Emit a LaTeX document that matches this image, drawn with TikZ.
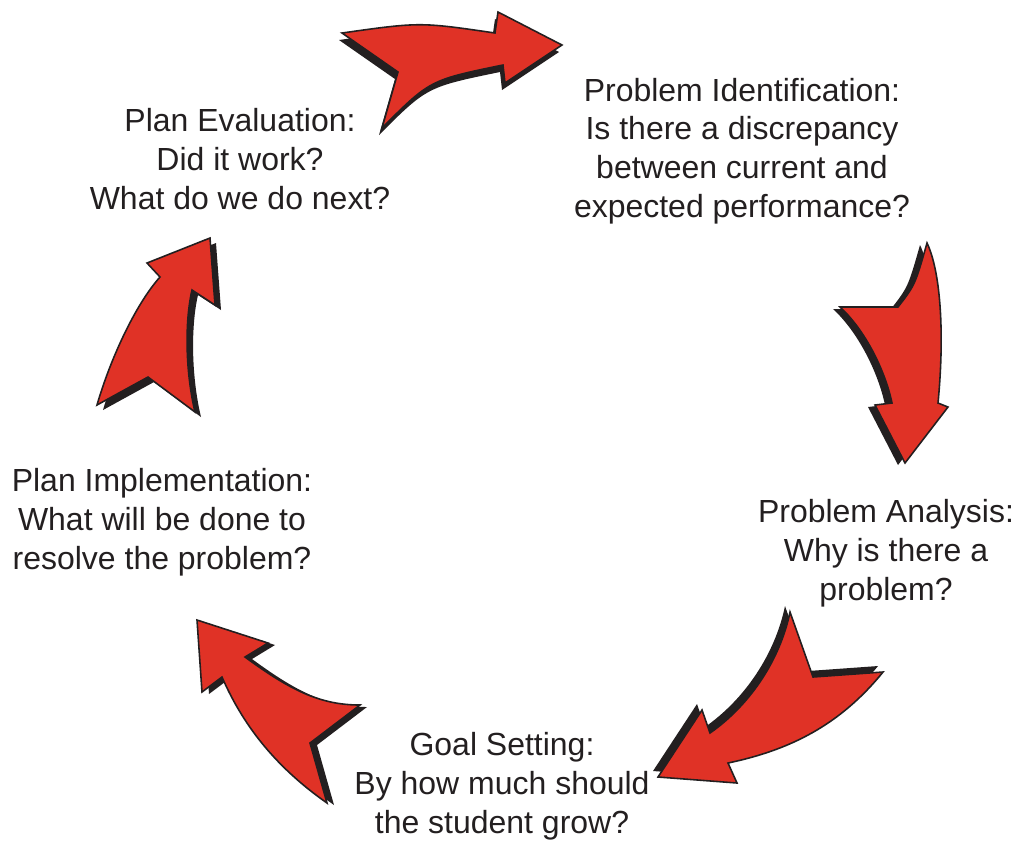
\documentclass[tikz,border=0pt]{standalone}
\usepackage{fontspec}
\setmainfont{Liberation Sans}
\usepackage{xcolor}
\usepackage{tikz}
\definecolor{vermelho}{RGB}{224,50,38}
\definecolor{escuro}{RGB}{35,31,32}
\tikzset{
    rotulo/.style={
        align=center,
        text=escuro,
        inner sep=0pt,
        font=\fontsize{18.2}{22.1}\selectfont
    },
    seta/.style={fill=vermelho, draw=escuro, line width=0.9pt, line join=miter},
    sombra/.style={fill=escuro}
}
% contornos das setas (coordenadas em pixels)
\newcommand{\setaTopo}{(342,33) .. controls (420,22) .. (495,33) -- (498,12) -- (562,45)
    -- (505,83) -- (503,65) .. controls (430,80) .. (382,128) -- (398,72) -- cycle}
\newcommand{\setaDireita}{(927,243) .. controls (940,270) and (945,330) .. (938,403)
    -- (948,407) -- (905,463) -- (875,405) -- (892,403)
    .. controls (885,370) and (865,330) .. (840,307) -- (898,307)
    .. controls (915,285) .. cycle}
\newcommand{\setaBaixoDir}{(790,612) -- (813,677) -- (883,672)
    .. controls (840,725) and (790,750) .. (728,763) -- (737,783) -- (658,777)
    -- (702,710) -- (710,733) .. controls (750,705) and (780,660) .. cycle}
\newcommand{\setaBaixoEsq}{(197,620) -- (268,643) -- (245,657)
    .. controls (290,690) and (320,705) .. (360,705) -- (310,743) -- (327,803)
    .. controls (280,770) and (245,730) .. (222,677) -- (202,692) -- cycle}
\newcommand{\setaEsquerda}{(210,238) -- (215,305) -- (192,290)
    .. controls (185,320) and (185,370) .. (195,412) -- (148,377) -- (97,405)
    .. controls (110,360) and (135,305) .. (160,277) -- (147,263) -- cycle}

\begin{document}
\begin{tikzpicture}[x=0.02cm, y=-0.02cm]
        \useasboundingbox (0,0) rectangle (1016,840);

        \node[rotulo] (identificacao) at (742,151)
            {Problem Identification:\\Is there a discrepancy\\
             between current and\\expected performance?};
        \node[rotulo] (analise) at (886,553)
            {Problem Analysis:\\Why is there a\\problem?};
        \node[rotulo] (meta) at (502,786)
            {Goal Setting:\\By how much should\\the student grow?};
        \node[rotulo] (implementacao) at (162,522)
            {Plan Implementation:\\What will be done to\\resolve the problem?};
        \node[rotulo] (avaliacao) at (240,159)
            {Plan Evaluation:\\Did it work?\\What do we do next?};

        % sombras
        \fill[sombra, shift={(-3,7)}] \setaTopo;
        \fill[sombra, shift={(-7,2)}] \setaDireita;
        \fill[sombra, shift={(-5,-6)}] \setaBaixoDir;
        \fill[sombra, shift={(7,2)}] \setaBaixoEsq;
        \fill[sombra, shift={(6,5)}] \setaEsquerda;

        % setas
        \filldraw[seta] \setaTopo;
        \filldraw[seta] \setaDireita;
        \filldraw[seta] \setaBaixoDir;
        \filldraw[seta] \setaBaixoEsq;
        \filldraw[seta] \setaEsquerda;
    \end{tikzpicture}
\end{document}
